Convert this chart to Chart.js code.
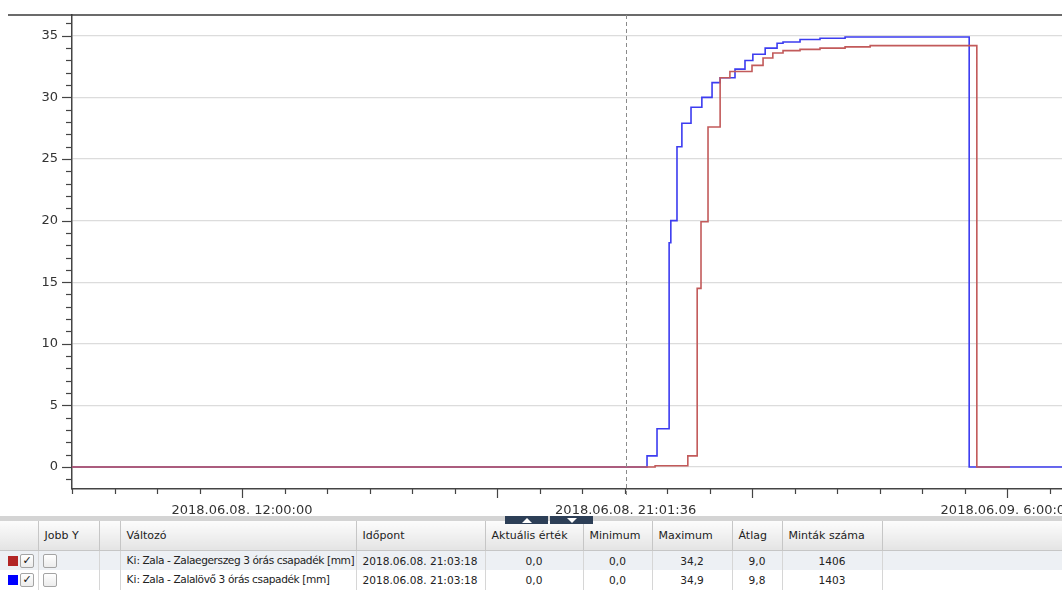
<!DOCTYPE html>
<html>
<head>
<meta charset="utf-8">
<script src="https://cdn.jsdelivr.net/npm/chart.js@4.4.0/dist/chart.umd.min.js"></script>
<style>
  body { margin: 0; background: #fff; width: 1062px; height: 599px; overflow: hidden; font-family: "DejaVu Sans", sans-serif; position: relative; }
  #chartBox { position: absolute; left: 0; top: 0; width: 1062px; height: 516px; }
  #strip { position: absolute; left: 0; top: 516px; width: 1062px; height: 5px; background: #d4d4d4; }
  .tab { position: absolute; top: 516px; width: 43px; height: 8px; background: #2d3f57; z-index: 2; }
  .tri-up { position: absolute; left: 17px; top: 2px; width: 0; height: 0; border-left: 5px solid transparent; border-right: 5px solid transparent; border-bottom: 5px solid #fff; }
  .tri-down { position: absolute; left: 17px; top: 2px; width: 0; height: 0; border-left: 5px solid transparent; border-right: 5px solid transparent; border-top: 5px solid #fff; }
  table { position: absolute; left: 0; top: 521px; width: 1062px; border-collapse: collapse; table-layout: fixed; font-size: 10.6px; color: #222; }
  th { height: 29px; font-size: 11px; font-weight: normal; text-align: left; padding: 0 0 0 6px; background: linear-gradient(#fcfcfc, #e4e4e4); border-right: 1px solid #c6c6c6; border-bottom: 1px solid #c6c6c6; white-space: nowrap; overflow: hidden; }
  td { padding: 0 0 0 6px; border-right: 1px solid #d6d6d6; white-space: nowrap; overflow: hidden; position: relative; }
  tr.r1 td { height: 19px; background: #edf0f4; }
  tr.r2 td { height: 20px; background: #fff; }
  td.c { text-align: center; padding: 0; }
  .sq { position: absolute; left: 8px; top: 5px; width: 10px; height: 10px; }
  .cb { position: absolute; top: 3px; width: 12px; height: 12px; border: 1px solid #a4a4a4; border-radius: 2px; background: linear-gradient(#fff, #ececec); font-size: 11px; line-height: 12px; text-align: center; color: #111; }
  .ki { position: absolute; left: 6px; top: 3px; }
  .name { position: absolute; left: 22px; top: 3px; letter-spacing: -0.4px; }
</style>
</head>
<body>
<div id="chartBox"><canvas id="chart" width="1062" height="516"></canvas></div>
<div id="strip"></div>
<div class="tab" style="left:505px"><div class="tri-up"></div></div>
<div class="tab" style="left:550px"><div class="tri-down"></div></div>
<table>
  <colgroup>
    <col style="width:38px"><col style="width:61px"><col style="width:21px"><col style="width:236px">
    <col style="width:129px"><col style="width:98px"><col style="width:69px"><col style="width:80px">
    <col style="width:50px"><col style="width:100px"><col style="width:180px">
  </colgroup>
  <thead>
    <tr>
      <th></th><th>Jobb Y</th><th></th><th>Változó</th><th>Időpont</th><th>Aktuális érték</th>
      <th>Minimum</th><th>Maximum</th><th>Átlag</th><th>Minták száma</th><th></th>
    </tr>
  </thead>
  <tbody id="rows"></tbody>
</table>

<script>
  // Series data: time in hours from 2018.06.08. 00:00, value in mm
  const redTimes  = [8, 21.72, 22.49, 22.71, 22.80, 22.965, 23.25, 23.48, 24.0, 24.26, 24.49, 24.73, 25.13, 25.6, 26.19, 26.78, 29.29, 30.07];
  const redValues = [0, 0.1,   0.9,   14.5,  19.9,  27.6,   31.6,  32.1,  32.6, 33.2,  33.6,  33.8,  33.9,  34.0, 34.1,  34.2,  0,     0];

  const blueTimes  = [8, 21.53, 21.765, 22.05, 22.09, 22.235, 22.35, 22.565, 22.82, 23.06, 23.25, 23.6, 23.835, 24.02, 24.31, 24.59, 24.73, 25.13, 25.6, 26.19, 29.11, 31.3];
  const blueValues = [0, 0.9,   3.1,    18.2,  20.0,  26.0,   27.9,  29.2,   30.0,  31.2,  31.6,  32.3, 33.0,   33.5,  34.0,  34.4,  34.5,  34.7,  34.8, 34.9,  0,     0];

  const seriesNames = ['Zala - Zalaegerszeg 3 órás csapadék [mm]', 'Zala - Zalalövő 3 órás csapadék [mm]'];
  const seriesColors = ['#b22525', '#0000ff'];
  const lineColors = ['#c25a5a', '#3c3cf0'];
  const rowTime = ['2018.06.08. 21:03:18', '2018.06.08. 21:03:18'];
  const rowCurrent = ['0,0', '0,0'];
  const rowMin = ['0,0', '0,0'];
  const rowMax = ['34,2', '34,9'];
  const rowAvg = ['9,0', '9,8'];
  const rowCount = ['1406', '1403'];

  const yTickValues = [-1, 0, 1, 2, 3, 4, 5, 6, 7, 8, 9, 10, 11, 12, 13, 14, 15, 16, 17, 18, 19, 20, 21, 22, 23, 24, 25, 26, 27, 28, 29, 30, 31, 32, 33, 34, 35, 36];
  const xHourTicks = [8, 9, 10, 11, 12, 13, 14, 15, 16, 17, 18, 19, 20, 21, 22, 23, 24, 25, 26, 27, 28, 29, 30, 31];
  const cursorTime = 21 + 1 / 60 + 36 / 3600;
  const xTickLabels = { 12: '2018.06.08. 12:00:00', 30: '2018.06.09. 6:00:00' };
  const cursorLabel = '2018.06.08. 21:01:36';

  // table rows
  const tbody = document.getElementById('rows');
  seriesNames.forEach((name, i) => {
    const tr = document.createElement('tr');
    tr.className = i === 0 ? 'r1' : 'r2';
    tr.innerHTML =
      `<td><div class="sq" style="background:${seriesColors[i]}"></div><div class="cb" style="left:20px">✓</div></td>` +
      `<td><div class="cb" style="left:4px"></div></td><td></td>` +
      `<td><span class="ki">Ki:</span><span class="name">${name}</span></td>` +
      `<td>${rowTime[i]}</td><td class="c">${rowCurrent[i]}</td><td class="c">${rowMin[i]}</td>` +
      `<td class="c">${rowMax[i]}</td><td class="c">${rowAvg[i]}</td><td class="c">${rowCount[i]}</td><td></td>`;
    tbody.appendChild(tr);
  });

  const toPoints = (times, values) => times.map((t, i) => ({ x: t, y: values[i] }));

  // tick marks, top frame line, cursor
  const decorations = {
    id: 'decorations',
    afterDraw(chart) {
      const { ctx, chartArea, scales } = chart;
      const x = scales.x, y = scales.y;
      ctx.save();
      ctx.strokeStyle = '#3a3a3a';
      ctx.lineWidth = 1.5;
      ctx.beginPath();
      ctx.moveTo(8, chartArea.top);
      ctx.lineTo(chartArea.right, chartArea.top);
      ctx.stroke();

      ctx.lineWidth = 1.2;
      ctx.strokeStyle = '#444';
      yTickValues.forEach(v => {
        const py = Math.round(y.getPixelForValue(v)) + 0.5;
        const len = v % 5 === 0 ? 10 : 6;
        ctx.beginPath();
        ctx.moveTo(chartArea.left - len, py);
        ctx.lineTo(chartArea.left, py);
        ctx.stroke();
      });
      xHourTicks.forEach(h => {
        const px = Math.round(x.getPixelForValue(h)) + 0.5;
        const len = h % 6 === 0 ? 9 : 5;
        ctx.beginPath();
        ctx.moveTo(px, chartArea.bottom);
        ctx.lineTo(px, chartArea.bottom + len);
        ctx.stroke();
      });

      const cx = Math.round(x.getPixelForValue(cursorTime)) + 0.5;
      ctx.strokeStyle = '#8a8a8a';
      ctx.lineWidth = 1;
      ctx.setLineDash([4, 3]);
      ctx.beginPath();
      ctx.moveTo(cx, chartArea.top);
      ctx.lineTo(cx, chartArea.bottom + 9);
      ctx.stroke();
      ctx.restore();
    }
  };

  new Chart(document.getElementById('chart'), {
    type: 'line',
    data: {
      datasets: [{
        label: seriesNames[0],
        data: toPoints(redTimes, redValues),
        borderColor: lineColors[0],
        borderWidth: 1.6,
        stepped: true,
        pointRadius: 0,
        fill: false
      }, {
        label: seriesNames[1],
        data: toPoints(blueTimes, blueValues),
        borderColor: lineColors[1],
        borderWidth: 1.6,
        stepped: true,
        pointRadius: 0,
        fill: false
      }]
    },
    options: {
      responsive: false,
      animation: false,
      devicePixelRatio: 1,
      layout: { padding: { top: 15, left: 0, right: 0, bottom: 0 } },
      plugins: { legend: { display: false }, tooltip: { enabled: false } },
      scales: {
        x: {
          type: 'linear',
          min: 8,
          max: 31.294,
          afterBuildTicks: s => { s.ticks = xHourTicks.concat([cursorTime]).map(v => ({ value: v })); },
          afterFit: s => { s.height = 27; },
          ticks: {
            autoSkip: false,
            maxRotation: 0,
            padding: 5,
            color: '#333',
            font: { family: 'DejaVu Sans', size: 13 },
            callback: v => Math.abs(v - cursorTime) < 1e-6 ? cursorLabel : (xTickLabels[v] || '')
          },
          grid: { drawOnChartArea: false, tickLength: 9, tickColor: 'rgba(0,0,0,0)' },
          border: { color: '#444', width: 1.5 }
        },
        y: {
          min: -1.79,
          max: 36.69,
          afterBuildTicks: s => { s.ticks = yTickValues.map(v => ({ value: v })); },
          afterFit: s => { s.width = 72; },
          ticks: {
            autoSkip: false,
            padding: 4,
            color: '#333',
            font: { family: 'DejaVu Sans', size: 13 },
            callback: v => (v % 5 === 0 ? String(v) : '')
          },
          grid: {
            tickLength: 10,
            tickColor: 'rgba(0,0,0,0)',
            color: ctx => (ctx.tick && ctx.tick.value % 5 === 0 ? '#dcdcdc' : 'rgba(0,0,0,0)'),
            lineWidth: 1.2
          },
          border: { color: '#444', width: 1.5 }
        }
      }
    },
    plugins: [decorations]
  });
</script>
</body>
</html>
